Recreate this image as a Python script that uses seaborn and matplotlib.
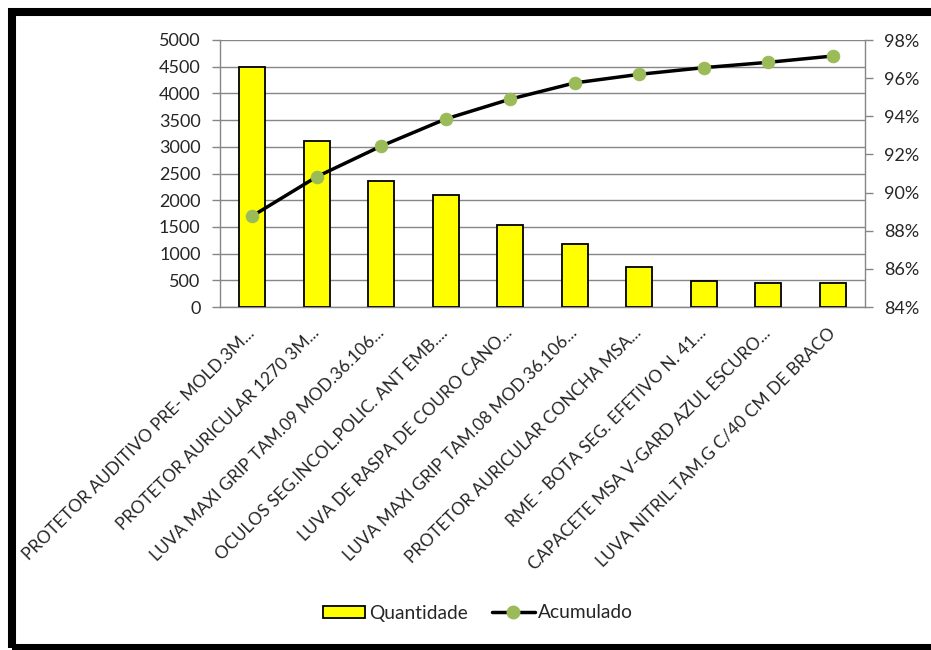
import numpy as np
import matplotlib
matplotlib.use("Agg")
import matplotlib.pyplot as plt
from matplotlib.patches import Rectangle
from matplotlib.lines import Line2D
from matplotlib.ticker import FixedLocator, PercentFormatter
import seaborn as sns

categories = [
    "PROTETOR AUDITIVO PRE- MOLD.3M...",
    "PROTETOR AURICULAR 1270 3M...",
    "LUVA MAXI GRIP TAM.09 MOD.36.106...",
    "OCULOS SEG.INCOL.POLIC. ANT EMB....",
    "LUVA DE RASPA DE COURO CANO...",
    "LUVA MAXI GRIP TAM.08 MOD.36.106...",
    "PROTETOR AURICULAR CONCHA MSA...",
    "RME - BOTA SEG. EFETIVO N. 41...",
    "CAPACETE MSA V-GARD AZUL ESCURO...",
    "LUVA NITRIL.TAM.G C/40 CM DE BRACO",
]
quantidade = [4490, 3100, 2360, 2100, 1530, 1180, 750, 490, 455, 455]
acumulado = [88.77, 90.83, 92.44, 93.86, 94.90, 95.75, 96.20, 96.55, 96.83, 97.16]

left_ticks = list(range(0, 5001, 500))
right_ticks = list(range(84, 99, 2))

sns.set_theme(style="white")
plt.rcParams["font.family"] = ["Lato", "DejaVu Sans"]
text_color = "#262626"
axis_color = "#868686"

fig = plt.figure(figsize=(9.31, 6.5), dpi=100)
ax = fig.add_axes([220 / 931, 1 - 307 / 650, 645 / 931, 267 / 650])

x = np.arange(len(categories))
sns.barplot(x=x, y=quantidade, ax=ax, color="#FFFF00", edgecolor="black",
            linewidth=1.3, width=0.41, saturation=1, native_scale=True, zorder=3)

ax.set_xlim(-0.5, len(categories) - 0.5)
ax.set_ylim(0, 5000)
ax.yaxis.set_major_locator(FixedLocator(left_ticks))
ax.grid(axis="y", color=axis_color, linewidth=1.0, zorder=0)
ax.set_axisbelow(True)

ax.set_xticks(x)
ax.set_xticklabels(categories, rotation=45, ha="right", va="center",
                   rotation_mode="anchor", fontsize=12.5, color=text_color)
ax.tick_params(axis="x", which="major", length=0, pad=17)
ax.set_xticks(np.arange(-0.5, len(categories), 1.0), minor=True)
ax.tick_params(axis="x", which="minor", length=6, color=axis_color, width=1)
ax.tick_params(axis="y", length=6, color=axis_color, width=1, labelsize=13,
               labelcolor=text_color, left=True, pad=8)

for side in ["left", "bottom"]:
    ax.spines[side].set_color(axis_color)
    ax.spines[side].set_linewidth(1.0)
ax.spines["top"].set_visible(False)
ax.spines["right"].set_visible(False)

ax2 = ax.twinx()
sns.lineplot(x=x, y=acumulado, ax=ax2, color="black", linewidth=2.5,
             marker="o", markersize=9, markerfacecolor="#9BBB59",
             markeredgecolor="#9BBB59", zorder=5)
ax2.set_ylim(84, 98)
ax2.yaxis.set_major_locator(FixedLocator(right_ticks))
ax2.yaxis.set_major_formatter(PercentFormatter(decimals=0))
ax2.tick_params(axis="y", length=6, color=axis_color, width=1, labelsize=13,
                labelcolor=text_color, right=True, pad=8)
ax2.grid(False)
for side in ["left", "top", "bottom"]:
    ax2.spines[side].set_visible(False)
ax2.spines["right"].set_color(axis_color)
ax2.spines["right"].set_linewidth(1.0)
ax2.set_xlim(-0.5, len(categories) - 0.5)

handles = [
    Rectangle((0, 0), 1, 1, facecolor="#FFFF00", edgecolor="black", linewidth=1.3),
    Line2D([0], [0], color="black", linewidth=2.5, marker="o", markersize=9,
           markerfacecolor="#9BBB59", markeredgecolor="#9BBB59"),
]
fig.legend(handles, ["Quantidade", "Acumulado"], loc="center",
           bbox_to_anchor=(478 / 931, 1 - 613 / 650), ncol=2, frameon=False,
           fontsize=13.8, handlelength=2.2, handleheight=0.62, handletextpad=0.2,
           columnspacing=1.3, labelcolor=text_color)

# black frame around the chart
fig.patches.append(Rectangle((12 / 931, 1 - 648 / 650), 940 / 931, 636 / 650,
                             transform=fig.transFigure, fill=False,
                             edgecolor="black", linewidth=5.8, zorder=10))

fig.savefig("out.png", dpi=100, facecolor="white")
